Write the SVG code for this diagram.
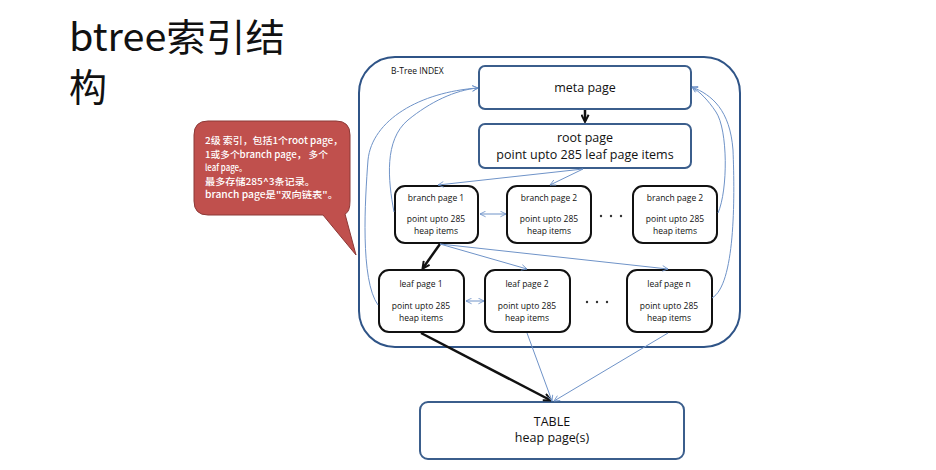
<svg xmlns="http://www.w3.org/2000/svg" width="936" height="470" viewBox="0 0 936 470">
<style>
.t{font-family:"Open Sans","Noto Sans CJK SC",sans-serif;fill:#111;text-anchor:middle}
.sm{font-size:8.5px}
.md{font-size:12.5px}
.bl{fill:#fff;stroke:#3B5E8C;stroke-width:2}
.bk{fill:#fff;stroke:#111;stroke-width:2}
.thin{fill:none;stroke:#6F93C8;stroke-width:1}
.thick{fill:none;stroke:#111;stroke-width:2.5}
.cw{font-family:"Noto Sans CJK SC","Open Sans",sans-serif;font-size:9.3px;fill:#fff;font-weight:500}
.dot{fill:#333}
</style>
<defs>
<marker id="ab" viewBox="0 0 10 10" refX="9" refY="5" markerWidth="7" markerHeight="7" orient="auto-start-reverse" markerUnits="userSpaceOnUse"><path d="M1,1 L9,5 L1,9" fill="none" stroke="#6F93C8" stroke-width="1.2"/></marker>
<marker id="ak" viewBox="0 0 10 10" refX="8" refY="5" markerWidth="9" markerHeight="9" orient="auto" markerUnits="userSpaceOnUse"><path d="M1,1 L9,5 L1,9" fill="none" stroke="#111" stroke-width="2.2"/></marker>
</defs>
<rect width="936" height="470" fill="#fff"/>
<g id="title">
<text x="69" y="51" font-family="'Noto Sans CJK SC','Noto Sans',sans-serif" font-size="38" fill="#111" textLength="216" lengthAdjust="spacingAndGlyphs">btree索引结</text>
<text x="69" y="101" font-family="'Noto Sans CJK SC','Noto Sans',sans-serif" font-size="38" fill="#111">构</text>
</g>
<g id="index">
<rect x="359" y="57" width="381" height="290" rx="36" fill="#fff" stroke="#2F5487" stroke-width="2"/>
<text x="391" y="74" font-family="'Open Sans',sans-serif" font-size="8.5" fill="#111">B-Tree INDEX</text>
</g>
<g id="callout">
<path d="M208,121 H336 Q350,121 350,135 V201 Q350,212 345,214 L356,255 L323,215 H208 Q194,215 194,201 V135 Q194,121 208,121 Z" fill="#C0504D" stroke="#8C3836" stroke-width="1"/>
<text class="cw" x="205" y="144" textLength="138" lengthAdjust="spacingAndGlyphs">2级 索引，包括1个root page，</text>
<text class="cw" x="205" y="157.5" textLength="123" lengthAdjust="spacingAndGlyphs">1或多个branch page， 多个</text>
<text class="cw" x="205" y="171" textLength="42" lengthAdjust="spacingAndGlyphs">leaf page。</text>
<text class="cw" x="205" y="184.5" textLength="110" lengthAdjust="spacingAndGlyphs">最多存储285^3条记录。</text>
<text class="cw" x="205" y="198" textLength="133" lengthAdjust="spacingAndGlyphs">branch page是"双向链表"。</text>
</g>
<g id="meta"><rect class="bl" x="479" y="66" width="212" height="43" rx="6"/><text class="t md" x="585" y="92">meta page</text></g>
<g id="root"><rect class="bl" x="479" y="124" width="212" height="44" rx="6"/><text class="t md" x="585" y="142">root page</text><text class="t md" x="585" y="159">point upto 285 leaf page items</text></g>
<g id="branch1"><rect class="bk" x="395" y="186" width="83" height="57" rx="10"/><text class="t sm" x="436" y="201">branch page 1</text><text class="t sm" x="436" y="222">point upto 285</text><text class="t sm" x="436" y="234">heap items</text></g>
<g id="branch2"><rect class="bk" x="507" y="186" width="84" height="57" rx="10"/><text class="t sm" x="549" y="201">branch page 2</text><text class="t sm" x="549" y="222">point upto 285</text><text class="t sm" x="549" y="234">heap items</text></g>
<g id="branch3"><rect class="bk" x="633" y="186" width="84" height="57" rx="10"/><text class="t sm" x="675" y="201">branch page 2</text><text class="t sm" x="675" y="222">point upto 285</text><text class="t sm" x="675" y="234">heap items</text></g>
<g id="leaf1"><rect class="bk" x="379" y="270" width="85" height="62" rx="10"/><text class="t sm" x="421" y="287">leaf page 1</text><text class="t sm" x="421" y="309">point upto 285</text><text class="t sm" x="421" y="321">heap items</text></g>
<g id="leaf2"><rect class="bk" x="485" y="270" width="85" height="62" rx="10"/><text class="t sm" x="527" y="287">leaf page 2</text><text class="t sm" x="527" y="309">point upto 285</text><text class="t sm" x="527" y="321">heap items</text></g>
<g id="leafn"><rect class="bk" x="627" y="270" width="85" height="62" rx="10"/><text class="t sm" x="669" y="287">leaf page n</text><text class="t sm" x="669" y="309">point upto 285</text><text class="t sm" x="669" y="321">heap items</text></g>
<g id="dots">
<circle class="dot" cx="601" cy="216" r="1.2"/><circle class="dot" cx="611" cy="216" r="1.2"/><circle class="dot" cx="621" cy="216" r="1.2"/>
<circle class="dot" cx="587" cy="302" r="1.2"/><circle class="dot" cx="597" cy="302" r="1.2"/><circle class="dot" cx="607" cy="302" r="1.2"/>
</g>
<g id="table"><rect class="bl" x="420" y="402" width="264" height="57" rx="8"/><text class="t md" x="552" y="426">TABLE</text><text class="t md" x="552" y="442">heap page(s)</text></g>
<g id="connectors">
<line class="thick" x1="585" y1="110" x2="585" y2="121" marker-end="url(#ak)"/>
<line class="thin" x1="583" y1="169" x2="438" y2="185" marker-end="url(#ab)"/>
<line class="thin" x1="583" y1="169" x2="550" y2="185" marker-end="url(#ab)"/>
<line class="thin" x1="480" y1="214" x2="506" y2="214" marker-start="url(#ab)" marker-end="url(#ab)"/>
<line class="thin" x1="466" y1="301" x2="484" y2="301" marker-start="url(#ab)" marker-end="url(#ab)"/>
<line class="thick" x1="440" y1="244" x2="423" y2="268" marker-end="url(#ak)"/>
<line class="thin" x1="440" y1="244" x2="527" y2="269" marker-end="url(#ab)"/>
<line class="thin" x1="440" y1="244" x2="668" y2="269" marker-end="url(#ab)"/>
<path class="thin" d="M394,212 C388,180 384,140 408,120 C430,102 455,90 478,88" marker-end="url(#ab)"/>
<path class="thin" d="M378,305 C360,280 365,200 368,160 C372,120 420,92 478,88" marker-end="url(#ab)"/>
<path class="thin" d="M718,213 C728,190 728,130 716,112 C708,100 700,92 692,87" marker-end="url(#ab)"/>
<path class="thin" d="M712,298 C735,285 735,200 733,150 C730,110 712,95 692,87" marker-end="url(#ab)"/>
<line class="thick" x1="421" y1="333" x2="550" y2="400" marker-end="url(#ak)"/>
<line class="thin" x1="527" y1="333" x2="552" y2="401" marker-end="url(#ab)"/>
<line class="thin" x1="668" y1="333" x2="554" y2="401" marker-end="url(#ab)"/>
</g>
</svg>
